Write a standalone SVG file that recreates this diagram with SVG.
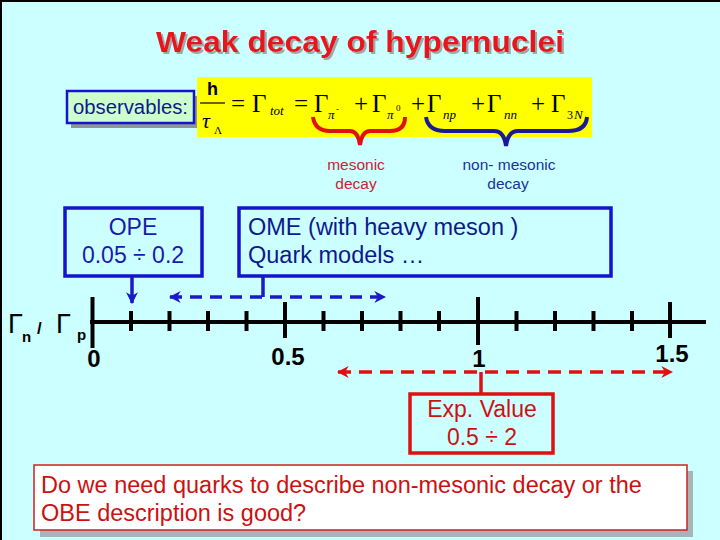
<svg xmlns="http://www.w3.org/2000/svg" width="720" height="540" viewBox="0 0 720 540">
<defs>
<style>
.sans{font-family:"Liberation Sans",Arial,sans-serif}
.serif{font-family:"Liberation Serif","Times New Roman",serif}
.blueBox{fill:none;stroke:#1414CC;stroke-width:3.5}
.redBox{fill:none;stroke:#DD1111;stroke-width:3.5}
.blueDash{fill:none;stroke:#1A1ACC;stroke-width:3.5;stroke-dasharray:12 8}
.redDash{fill:none;stroke:#E01010;stroke-width:3.5;stroke-dasharray:13 8}
.axis{stroke:#000;stroke-width:4;fill:none}
.tick{stroke:#000;stroke-width:4}
.axlab{font-family:"Liberation Sans",Arial,sans-serif;font-weight:bold;font-size:24px;fill:#000}
</style>
<filter id="tshadow" x="-5%" y="-20%" width="110%" height="150%">
<feDropShadow dx="2" dy="2" stdDeviation="0" flood-color="#99AAAA" flood-opacity="1"/>
</filter>
<marker id="ahBlue" viewBox="0 0 10 10" refX="9" refY="5" markerWidth="3.4" markerHeight="3.4" orient="auto-start-reverse">
<path d="M0,0 L10,5 L0,10 L3,5 z" fill="#1A1ACC"/>
</marker>
<marker id="ahRed" viewBox="0 0 10 10" refX="9" refY="5" markerWidth="3.4" markerHeight="3.4" orient="auto-start-reverse">
<path d="M0,0 L10,5 L0,10 L3,5 z" fill="#E01010"/>
</marker>
</defs>
<rect x="0" y="0" width="720" height="540" fill="#CCFFFF"/>
<path d="M1,540 L1,1 L720,1" fill="none" stroke="#000" stroke-width="2"/>

<g id="title">
<text class="sans" x="156" y="52" font-size="30" font-weight="bold" fill="#E8141B" textLength="408" lengthAdjust="spacingAndGlyphs" filter="url(#tshadow)">Weak decay of hypernuclei</text>
</g>

<g id="observables">
<rect x="71" y="96" width="127" height="32" fill="#8C9696"/>
<rect x="67" y="91" width="127" height="32" fill="#CCFFCC" stroke="#1414CC" stroke-width="2.5"/>
<text class="sans" x="73" y="114" font-size="19.5" fill="#0D1A8C" textLength="115" lengthAdjust="spacingAndGlyphs">observables:</text>
</g>

<g id="formula">
<rect x="197" y="77" width="395" height="60" fill="#FFFF00"/>
<text class="sans" x="207" y="95" font-size="18" font-weight="bold" fill="#000">h</text>
<line x1="200" y1="103" x2="225" y2="103" stroke="#000" stroke-width="1.2"/>
<text class="serif" x="202" y="128" font-size="22" font-style="italic" fill="#000">τ</text>
<text class="serif" x="214" y="134" font-size="11" fill="#000">Λ</text>
<g class="serif" fill="#000" font-size="25">
<text x="231" y="112">=</text>
<text x="252" y="112">Γ</text>
<text x="294" y="112">=</text>
<text x="314" y="112">Γ</text>
<text x="354" y="112">+</text>
<text x="372" y="112">Γ</text>
<text x="411" y="112">+</text>
<text x="427" y="112">Γ</text>
<text x="471" y="112">+</text>
<text x="487" y="112">Γ</text>
<text x="531" y="112">+</text>
<text x="551" y="112">Γ</text>
</g>
<g class="serif" fill="#000" font-size="13" font-style="italic">
<text x="270" y="115">tot</text>
<text x="328" y="119">π</text>
<text x="336" y="112" font-size="9" font-style="normal">-</text>
<text x="387" y="119">π</text>
<text x="396" y="111" font-size="9" font-style="normal">0</text>
<text x="443" y="119">np</text>
<text x="504" y="119">nn</text>
<text x="567" y="119" font-style="normal" font-size="12">3</text>
<text x="574" y="119">N</text>
</g>
<path d="M313,117 Q315,131 330,131 L350,131 Q358,131 360,145 Q362,131 370,131 L390,131 Q405,131 405,117" fill="none" stroke="#E01010" stroke-width="4"/>
<path d="M426,117 Q428,131 445,131 L494,131 Q504,131 506,146 Q508,131 518,131 L568,131 Q586,131 587,117" fill="none" stroke="#1A1A99" stroke-width="4"/>
<text class="sans" x="356" y="170" font-size="15.5" fill="#CC2233" text-anchor="middle">mesonic</text>
<text class="sans" x="356" y="189" font-size="15.5" fill="#CC2233" text-anchor="middle">decay</text>
<text class="sans" x="509" y="170" font-size="15.5" fill="#1A3399" text-anchor="middle">non- mesonic</text>
<text class="sans" x="508" y="189" font-size="15.5" fill="#1A3399" text-anchor="middle">decay</text>
</g>

<g id="ope">
<rect class="blueBox" x="65" y="208" width="137" height="68"/>
<text class="sans" x="133" y="235" font-size="23" fill="#1A1AB0" text-anchor="middle">OPE</text>
<text class="sans" x="133" y="263" font-size="23" fill="#1A1AB0" text-anchor="middle">0.05 ÷ 0.2</text>
</g>

<g id="ome">
<rect class="blueBox" x="239" y="208" width="372" height="68"/>
<text class="sans" x="248" y="235" font-size="23.5" fill="#0D1A8C">OME (with heavy meson )</text>
<text class="sans" x="248" y="263" font-size="23.5" fill="#0D1A8C">Quark models …</text>
</g>

<g id="axis">
<line class="axis" x1="90" y1="322" x2="706" y2="322"/>
<line class="tick" x1="92.5" y1="297" x2="92.5" y2="348"/>
<g class="tick">
<line x1="131" y1="311" x2="131" y2="331"/>
<line x1="169.5" y1="311" x2="169.5" y2="331"/>
<line x1="208" y1="311" x2="208" y2="331"/>
<line x1="246.5" y1="311" x2="246.5" y2="331"/>
<line x1="285" y1="302" x2="285" y2="338"/>
<line x1="323.5" y1="311" x2="323.5" y2="331"/>
<line x1="362" y1="311" x2="362" y2="331"/>
<line x1="400.5" y1="311" x2="400.5" y2="331"/>
<line x1="439" y1="311" x2="439" y2="331"/>
<line x1="478" y1="297" x2="478" y2="345"/>
<line x1="516.5" y1="311" x2="516.5" y2="331"/>
<line x1="555" y1="311" x2="555" y2="331"/>
<line x1="593.5" y1="311" x2="593.5" y2="331"/>
<line x1="632" y1="311" x2="632" y2="331"/>
<line x1="670" y1="302" x2="670" y2="338"/>
</g>
<text class="axlab" x="94" y="367" text-anchor="middle">0</text>
<text class="axlab" x="288" y="365" text-anchor="middle">0.5</text>
<text class="axlab" x="479" y="367" text-anchor="middle">1</text>
<text class="axlab" x="672" y="362" text-anchor="middle">1.5</text>
<text class="sans" x="8" y="333" font-size="27" fill="#000">Γ</text>
<text class="sans" x="22" y="342" font-size="15" font-weight="bold" fill="#000">n</text>
<text class="sans" x="37" y="334" font-size="17" font-weight="bold" fill="#000">/</text>
<text class="sans" x="56" y="333" font-size="27" fill="#000">Γ</text>
<text class="sans" x="77" y="340" font-size="15" font-weight="bold" fill="#000">p</text>
</g>

<g id="exp">
<rect class="redBox" x="410" y="394" width="143" height="59"/>
<text class="sans" x="482" y="417" font-size="23" fill="#CC1111" text-anchor="middle">Exp. Value</text>
<text class="sans" x="482" y="445" font-size="23" fill="#CC1111" text-anchor="middle">0.5 ÷ 2</text>
</g>

<g id="question">
<rect x="40" y="471" width="653" height="66" fill="#A9B4B4"/>
<rect x="34" y="465" width="653" height="65" fill="#FFFFFF" stroke="#CC2222" stroke-width="1.5"/>
<text class="sans" x="41" y="493" font-size="23.5" fill="#CC1111">Do we need quarks to describe non-mesonic decay or the</text>
<text class="sans" x="41" y="521" font-size="23.5" fill="#CC1111">OBE description is good?</text>
</g>

<g id="connectors">
<line x1="132" y1="277" x2="132" y2="303" stroke="#1A1ACC" stroke-width="3.5" marker-end="url(#ahBlue)"/>
<line x1="263" y1="277" x2="263" y2="297" stroke="#1A1ACC" stroke-width="3.5"/>
<line class="blueDash" x1="170" y1="297" x2="385" y2="297" marker-start="url(#ahBlue)" marker-end="url(#ahBlue)"/>
<line x1="481" y1="372" x2="481" y2="394" stroke="#DD1111" stroke-width="3.5"/>
<line class="redDash" x1="338" y1="372" x2="672" y2="372" marker-start="url(#ahRed)" marker-end="url(#ahRed)"/>
</g>
</svg>
